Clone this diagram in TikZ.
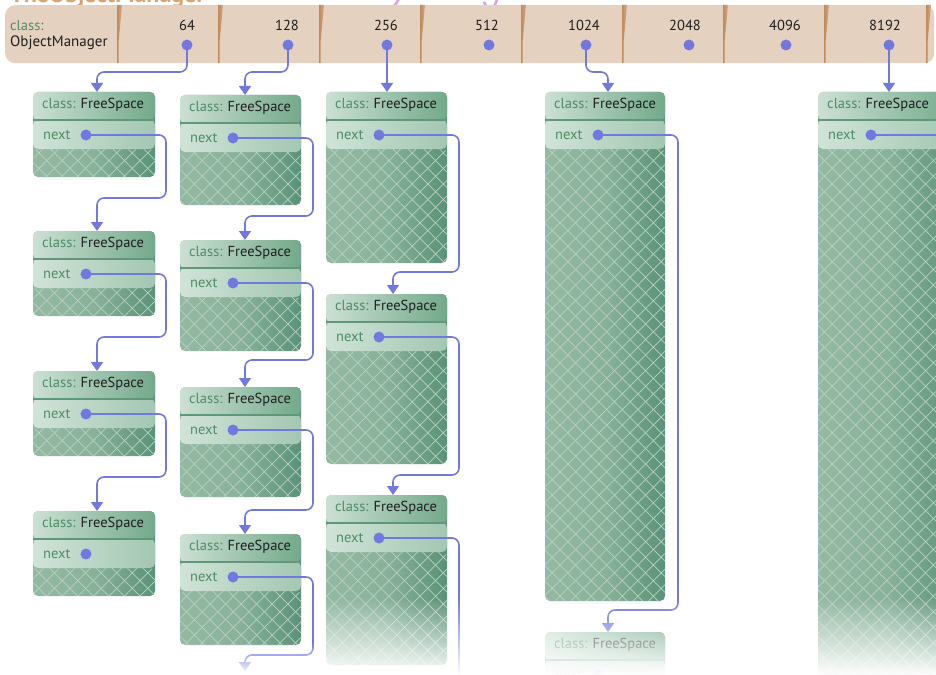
\documentclass[tikz,border=0pt]{standalone}
\usepackage{fontspec}
\setmainfont{PT Sans}
\usetikzlibrary{arrows.meta,calc,patterns.meta,fadings}
\definecolor{barc}{HTML}{E5D1C0}
\definecolor{divc}{HTML}{C08A5C}
\definecolor{dotc}{HTML}{7179DF}
\definecolor{grn}{HTML}{4F8C69}
\definecolor{txt}{HTML}{1E1E1E}
\definecolor{hdL}{HTML}{CCE0D3}
\definecolor{hdR}{HTML}{73A98B}
\definecolor{nxL}{HTML}{D0E3D7}
\definecolor{nxR}{HTML}{A3C7B2}
\definecolor{ptL}{HTML}{94B9A3}
\definecolor{ptR}{HTML}{5A9277}
\definecolor{ptLine}{HTML}{BAD1C3}
\definecolor{sepc}{HTML}{5E977A}
\definecolor{ttlc}{HTML}{D9A46F}
\definecolor{pnk}{HTML}{DCA5DC}
\tikzfading[name=fadedown, top color=transparent!100, bottom color=transparent!0]
\tikzset{
  fsbox/.style 2 args={rectangle, anchor=north west, inner sep=0pt, outer sep=0pt,
    minimum width=#1pt, minimum height=#2pt, rounded corners=5pt,
    path picture={
      \coordinate (pnw) at (path picture bounding box.north west);
      \coordinate (pse) at (path picture bounding box.south east);
      \coordinate (pne) at (path picture bounding box.north east);
      \shade[left color=ptL, right color=ptR, middle color=ptL!80!ptR] (pnw) rectangle (pse);
      \fill[pattern={Lines[angle=45,distance=11pt,line width=0.7pt]}, pattern color=ptLine] ($(pnw)+(0,57)$) rectangle (pse);
      \fill[pattern={Lines[angle=-45,distance=11pt,line width=0.7pt]}, pattern color=ptLine] ($(pnw)+(0,57)$) rectangle (pse);
      \shade[left color=nxL, right color=nxR] ($(pnw)+(0,28)$) rectangle ($(pne)+(0,57)$);
      \shade[left color=hdL, right color=hdR] (pnw) rectangle ($(pne)+(0,28)$);
      \draw[sepc, line width=1.2pt] ($(pnw)+(0,28)$) -- ($(pne)+(0,28)$);
    }},
  cls/.style={anchor=west, inner sep=0pt, font=\fontsize{14.5}{16}\selectfont, text=txt},
  nxt/.style={anchor=west, inner sep=0pt, font=\fontsize{14.5}{16}\selectfont, text=grn},
  num/.style={inner sep=0pt, font=\fontsize{14.5}{16}\selectfont, text=txt},
  dot/.style={circle, fill=dotc, minimum size=11pt, inner sep=0pt},
  link/.style={draw=dotc, line width=1.6pt, rounded corners=7pt, -{Triangle[length=9pt,width=12pt]}},
  linkn/.style={draw=dotc, line width=1.6pt, rounded corners=7pt},
  barbox/.style={rectangle, anchor=north west, fill=barc, rounded corners=10pt, minimum width=929pt, minimum height=58pt, inner sep=0pt},
  ttl/.style={anchor=base west, inner sep=0pt, font=\bfseries\fontsize{24}{26}\selectfont, text=ttlc},
  pink/.style={draw=pnk, line width=2.6pt, line cap=round}
}
\newcommand\FSbox[5]{%
  \node[fsbox={#4}{#5}] (#1) at (#2,#3) {};
  \node[cls] (#1-h) at ($(#1.north west)+(9,13)$) {\textcolor{grn}{class:} FreeSpace};
  \node[nxt] (#1-n) at ($(#1.north west)+(10,43)$) {next};
  \node[dot] (#1-d) at ($(#1.north west)+(53,43)$) {};
}
\begin{document}
\begin{tikzpicture}[x=1pt,y=-1pt]
\useasboundingbox (0,0) rectangle (936,674);
\clip (0,0) rectangle (936,674);
% title (cut off at top)
\node[ttl] (title) at (10,3) {TheObjectManager};
% pink arrows from above
\coordinate (p1s) at (400,-4); \coordinate (p1e) at (387,16);
\draw[pink] (p1s) to[out=-110,in=60] (p1e);
\coordinate (p2s) at (499,-8); \coordinate (p2e) at (490,18);
\draw[pink, -{Straight Barb[length=12pt,width=20pt]}] (p2s) to[out=-100,in=75] (p2e);
% ObjectManager bar
\node[barbox] (om) at (5,5) {};
\foreach \x in {117,218,319,420,521,622,723,824,926}{
  \shade[left color=divc, right color=divc!55!barc] (\x,5) -- (\x+5,5) -- (\x+1.6,42) -- (\x+1.6,63) -- (\x,63) -- cycle;
}
\node[anchor=west, inner sep=0pt, font=\fontsize{14.5}{16}\selectfont, text=grn] (omc) at (10,26) {class:};
\node[anchor=west, inner sep=0pt, font=\fontsize{15}{17}\selectfont, text=txt] (omn) at (10,43) {ObjectManager};
\foreach \n/\tx/\dx in {64/187/187,128/287/288,256/386/387,512/487/489,1024/584/586,2048/685/689,4096/785/786,8192/885/889}{
  \node[num] (n\n) at (\tx,25) {\n};
  \node[dot] (t\n) at (\dx,45) {};
}
% FreeSpace boxes
\FSbox{c11}{33}{92}{122}{85}
\FSbox{c12}{33}{231}{122}{85}
\FSbox{c13}{33}{371}{122}{85}
\FSbox{c14}{33}{511}{122}{85}
\FSbox{c21}{180}{95}{121}{110}
\FSbox{c22}{180}{240}{121}{111}
\FSbox{c23}{180}{387}{121}{110}
\FSbox{c24}{180}{534}{121}{111}
\FSbox{c31}{326}{92}{121}{171}
\FSbox{c32}{326}{294}{121}{170}
\FSbox{c33}{326}{495}{121}{170}
\FSbox{c41}{545}{92}{120}{509}
\FSbox{c42}{545}{632}{120}{90}
\FSbox{c51}{818}{92}{140}{620}
% connectors from the bar
\draw[link] (t64.center) |- ([xshift=3pt,yshift=20pt]c11.north) -- ([xshift=3pt]c11.north);
\draw[link] (t128.center) |- ([xshift=4.5pt,yshift=23pt]c21.north) -- ([xshift=4.5pt]c21.north);
\draw[link] (t256.center) -- (t256.center |- c31.north);
\draw[link] (t1024.center) |- ([xshift=3pt,yshift=20pt]c41.north) -- ([xshift=3pt]c41.north);
\draw[link] (t8192.center) -- (t8192.center |- c51.north);
% next connectors, column 1
\draw[link] (c11-d.center) -- ++(80,0) |- ([xshift=3pt,yshift=33pt]c12.north) -- ([xshift=3pt]c12.north);
\draw[link] (c12-d.center) -- ++(80,0) |- ([xshift=3pt,yshift=34pt]c13.north) -- ([xshift=3pt]c13.north);
\draw[link] (c13-d.center) -- ++(80,0) |- ([xshift=3pt,yshift=34pt]c14.north) -- ([xshift=3pt]c14.north);
% column 2
\draw[link] (c21-d.center) -- ++(80,0) |- ([xshift=4.5pt,yshift=24pt]c22.north) -- ([xshift=4.5pt]c22.north);
\draw[link] (c22-d.center) -- ++(80,0) |- ([xshift=4.5pt,yshift=27pt]c23.north) -- ([xshift=4.5pt]c23.north);
\draw[link] (c23-d.center) -- ++(80,0) |- ([xshift=4.5pt,yshift=24pt]c24.north) -- ([xshift=4.5pt]c24.north);
\coordinate (c25) at (245,671);
\draw[link] (c24-d.center) -- ++(80,0) |- ([yshift=16pt]c25) -- (c25);
% column 3
\draw[link] (c31-d.center) -- ++(80,0) |- ([xshift=6.5pt,yshift=22pt]c32.north) -- ([xshift=6.5pt]c32.north);
\draw[link] (c32-d.center) -- ++(80,0) |- ([xshift=6.5pt,yshift=20pt]c33.north) -- ([xshift=6.5pt]c33.north);
\coordinate (c34) at (461,700);
\draw[linkn] (c33-d.center) -- ++(80,0) |- (c34);
% column 4
\draw[link] (c41-d.center) -- ++(80,0) |- ([xshift=3pt,yshift=22pt]c42.north) -- ([xshift=3pt]c42.north);
% column 5
\coordinate (c52) at (960,0);
\draw[linkn] (c51-d.center) -- (c51-d.center -| c52);
% fading towards the bottom
\fill[white, path fading=fadedown] (316,598) rectangle (936,676);
\fill[white, path fading=fadedown] (160,642) rectangle (316,676);
\end{tikzpicture}
\end{document}
